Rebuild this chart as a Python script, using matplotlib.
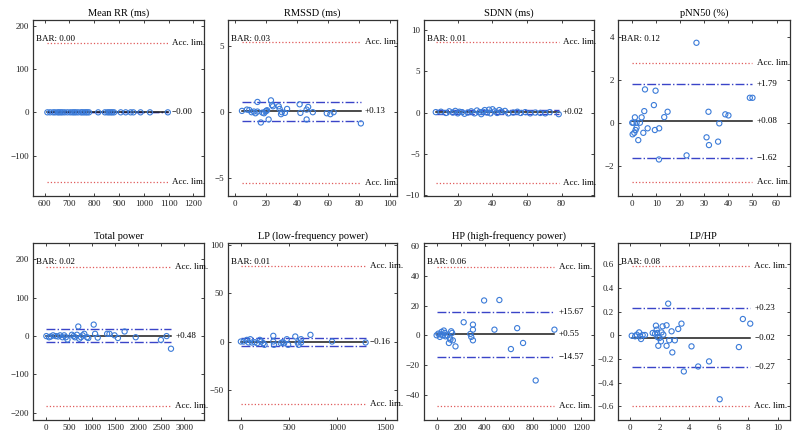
"""
Bland-Altman grid: agreement of eight HRV measures between two devices.
"""

import matplotlib
matplotlib.use("Agg")
import matplotlib.pyplot as plt
from matplotlib.ticker import FuncFormatter

plt.rcParams["font.family"] = ["Liberation Serif", "DejaVu Serif"]

TITLES = ["Mean RR (ms)", "RMSSD (ms)", "SDNN (ms)", "pNN50 (%)",
          "Total power", "LP (low-frequency power)", "HP (high-frequency power)", "LP/HP"]

# Summary statistics.
BAR = [0.00, 0.03, 0.01, 0.12, 0.02, 0.01, 0.06, 0.08]
BIAS = [-0.001, 0.13, 0.02, 0.08, 0.48, -0.16, 0.55, -0.02]
LOA_UP = [0.0, 0.81, 0.27, 1.79, 18.0, 3.5, 15.67, 0.23]
LOA_LO = [0.0, -0.63, -0.23, -1.62, -16.5, -4.2, -14.57, -0.27]
ACC_UP = [161, 5.3, 8.5, 2.77, 181, 78, 46.4, 0.585]
ACC_LO = [-160, -5.35, -8.5, -2.77, -182, -65, -47.5, -0.593]
LOA_LABELED = [False, False, False, True, False, False, True, True]

# Scatter data (mean of devices vs. difference).
MEANRR_X = [611, 622, 634, 642, 652, 658, 665, 672, 681, 692, 703, 712, 719, 726, 735, 746, 752,
            759, 766, 772, 779, 816, 843, 853, 860, 867, 873, 880, 907, 927, 947, 958, 987, 1025, 1097]
MEANRR_Y = [0.0] * len(MEANRR_X)

RMSSD_X = [4.3, 7.5, 9, 10.5, 12, 13, 14.3, 14.3, 16.5, 17.5, 18.5, 19.5, 20, 20.5, 21.5, 23, 23.7,
           24.3, 28, 28.6, 29.5, 30, 32, 33.4, 41.5, 42, 46, 46, 47, 50, 59, 61.3, 63.4, 81]
RMSSD_Y = [0.1, 0.2, 0.17, 0.0, 0.05, -0.08, 0.78, 0.05, -0.78, -0.03, -0.08, 0.05, 0.1, 0.15, -0.55,
           0.9, 0.55, 0.45, 0.45, 0.25, -0.15, 0.0, -0.05, 0.25, 0.6, -0.05, 0.2, -0.55, 0.4, 0.0,
           -0.08, -0.15, 0.0, -0.85]

SDNN_X = [7.3, 10.3, 13.2, 15.1, 17.1, 18.6, 20, 21, 22.5, 23.9, 25.8, 27.8, 29.7, 31.1, 32.7, 33.6,
          34.6, 35.6, 37, 38.1, 38.9, 40.1, 41.4, 42.8, 44, 45.3, 47.3, 49.2, 52.1, 54.5, 56.4, 59,
          61.9, 64.8, 67.7, 70.6, 73.2, 78.4]
SDNN_Y = [0.05, 0.1, -0.05, 0.15, 0.0, 0.2, -0.1, 0.1, 0.05, -0.15, 0.0, 0.15, -0.1, 0.25, 0.05,
          -0.2, 0.1, 0.3, 0.0, 0.35, -0.1, 0.4, 0.15, -0.05, 0.3, 0.1, 0.2, -0.1, 0.0, 0.1, -0.05,
          0.05, -0.1, 0.0, -0.05, -0.1, 0.05, -0.2]

PNN50_X = [0, 0.44, 1.8, 3.2, 1.1, 0.16, 0.85, 1.4, 1.8, 2.5, 3.9, 4.6, 5, 5.3, 6.4, 9, 9.4, 9.7,
           11.2, 11.1, 13.3, 14.7, 22.6, 26.7, 30.9, 31.7, 31.9, 35.7, 36.2, 38.7, 40, 48.9, 50]
PNN50_Y = [0, 0, 0, 0, 0.25, -0.54, -0.47, -0.34, -0.23, -0.81, 0.25, -0.47, 0.54, 1.55, -0.26,
           0.82, -0.34, 1.49, -0.26, -1.71, 0.26, 0.51, -1.52, 3.72, -0.68, 0.51, -1.04, -0.88,
           -0.03, 0.39, 0.34, 1.16, 1.16]

TP_X = [15, 73, 109, 160, 218, 269, 312, 363, 400, 436, 472, 567, 603, 632, 676, 705, 726, 763, 799,
        835, 893, 922, 1039, 1068, 1126, 1329, 1380, 1489, 1562, 1707, 1947, 2492, 2615, 2710]
TP_Y = [0, -3, -1, 2, 0, -1, 2, -3, 2, -3, -9, 3.5, 0, -3, 3.5, 25, -7, -3, 2, 6, -3, -5, 30, 6,
        -4, 6, 6, 2, -5, 12, -3, -10, 0, -33]

LP_X = [0, 28, 63, 81, 98, 116, 145, 170, 198, 212, 233, 247, 338, 338, 345, 416, 433, 451, 479,
        493, 567, 592, 602, 627, 627, 725, 950, 1300]
LP_Y = [0, 0, 1.7, -1, 2.4, -1, -0.7, -1.7, 1.7, 0, -1.7, -3.4, 5.9, 0, -3.4, -1.7, -0.7, -1.7,
        2.4, -3.4, 5.2, -1, -3.4, 2.4, -1, 6.9, 0, -1]

HP_X = [0, 14, 27, 41, 33, 52, 60, 69, 74, 88, 102, 110, 115, 121, 129, 135, 157, 225, 280, 288,
        302, 302, 302, 395, 481, 522, 618, 670, 719, 824, 980]
HP_Y = [0, 1.1, -1.1, 2.3, 0.5, 0, 3.2, 1.6, -0.7, 0, -5.2, -1.8, -2.9, 2.7, 1.6, -3.4, -7.5, 8.8,
        0.9, -1.1, 3.8, 7.2, -3.4, 23.5, 3.8, 23.8, -9.3, 4.8, -5.2, -30.5, 3.8]

LPHP_X = [0.11, 0.34, 0.45, 0.61, 0.67, 0.74, 0.85, 1.01, 1.53, 1.69, 1.75, 1.80, 1.84, 1.86, 1.91,
          1.98, 2.09, 2.13, 2.2, 2.25, 2.47, 2.47, 2.58, 2.65, 2.81, 2.86, 3.03, 3.26, 3.48, 3.64,
          4.16, 4.61, 5.35, 6.07, 7.37, 7.64, 8.14]
LPHP_Y = [-0.003, -0.008, 0.006, 0.025, -0.008, -0.031, 0.003, 0.003, 0.02, 0.014, 0.082, 0.048,
          0.02, -0.014, -0.088, -0.023, -0.051, 0.025, 0.076, 0.006, 0.085, -0.088, 0.268, -0.042,
          0.034, -0.144, -0.042, 0.054, 0.099, -0.305, -0.093, -0.263, -0.22, -0.54, -0.099,
          0.138, 0.099]

DATA_X = [MEANRR_X, RMSSD_X, SDNN_X, PNN50_X, TP_X, LP_X, HP_X, LPHP_X]
DATA_Y = [MEANRR_Y, RMSSD_Y, SDNN_Y, PNN50_Y, TP_Y, LP_Y, HP_Y, LPHP_Y]

XTICKS = [[600, 700, 800, 900, 1000, 1100, 1200], [0, 20, 40, 60, 80, 100], [20, 40, 60, 80],
          [0, 10, 20, 30, 40, 50, 60], [0, 500, 1000, 1500, 2000, 2500, 3000], [0, 500, 1000, 1500],
          [0, 200, 400, 600, 800, 1000, 1200], [0, 2, 4, 6, 8, 10]]
YTICKS = [[-100, 0, 100, 200], [-5, 0, 5], [-10, -5, 0, 5, 10], [-2, 0, 2, 4],
          [-200, -100, 0, 100, 200], [-50, 0, 50, 100], [-40, -20, 0, 20, 40, 60],
          [-0.6, -0.4, -0.2, 0, 0.2, 0.4, 0.6]]

# Layout (axes limits and pixel boxes of the original figure).
XLIMS = [(553, 1243), (-4.7, 104.3), (0.5, 98.5), (-5.8, 65.4),
         (-274, 3424), (-134, 1627), (-105, 1305), (-0.8, 10.8)]
YLIMS = [(-193, 213), (-6.36, 7.0), (-10.1, 11.2), (-3.41, 4.78),
         (-219, 243), (-81, 101.7), (-57.2, 62.3), (-0.715, 0.78)]
COL_PX = [(33, 204), (228, 397), (424, 593.5), (618.3, 789.5)]
ROW_PX = [(20, 196), (243, 420)]
W, H = 799, 440

SCATTER_C = "#3b7bd8"
LOA_C = "#3a44c8"
ACC_C = "#e05a5a"


def fmt(v, _pos=None):
    return ("%g" % round(v, 6)).replace("-", "\u2212")


def signed(v):
    return ("%+.2f" % v).replace("-", "\u2212")


fig = plt.figure(figsize=(W / 100, H / 100), dpi=100)

for i, title in enumerate(TITLES):
    x0, x1 = COL_PX[i % 4]
    y0, y1 = ROW_PX[i // 4]
    ax = fig.add_axes([x0 / W, 1 - y1 / H, (x1 - x0) / W, (y1 - y0) / H])

    xs, ys = DATA_X[i], DATA_Y[i]
    xmin, xmax = min(xs), max(xs)

    ax.plot([xmin, xmax], [ACC_UP[i]] * 2, ls=":", color=ACC_C, lw=0.9, zorder=1)
    ax.plot([xmin, xmax], [ACC_LO[i]] * 2, ls=":", color=ACC_C, lw=0.9, zorder=1)
    ax.plot([xmin, xmax], [LOA_UP[i]] * 2, ls="-.", color=LOA_C, lw=1.0, zorder=1)
    ax.plot([xmin, xmax], [LOA_LO[i]] * 2, ls="-.", color=LOA_C, lw=1.0, zorder=1)
    ax.plot([xmin, xmax], [BIAS[i]] * 2, ls="-", color="#1a1a1a", lw=1.1, zorder=2)
    ax.scatter(xs, ys, s=14, facecolors="none", edgecolors=SCATTER_C, linewidths=0.8, zorder=3)

    kw = dict(textcoords="offset points", va="center", ha="left", fontsize=6.5,
              annotation_clip=False)
    ax.annotate("Acc. lim.", xy=(xmax, ACC_UP[i]), xytext=(3, 0), **kw)
    ax.annotate("Acc. lim.", xy=(xmax, ACC_LO[i]), xytext=(3, 0), **kw)
    ax.annotate(signed(BIAS[i]), xy=(xmax, BIAS[i]), xytext=(3, 0), **kw)
    if LOA_LABELED[i]:
        ax.annotate(signed(LOA_UP[i]), xy=(xmax, LOA_UP[i]), xytext=(3, 0), **kw)
        ax.annotate(signed(LOA_LO[i]), xy=(xmax, LOA_LO[i]), xytext=(3, 0), **kw)
    ax.text(0.015, 0.89, "BAR: %.2f" % BAR[i], transform=ax.transAxes,
            fontsize=6.5, va="center", ha="left")

    ax.set_xlim(*XLIMS[i])
    ax.set_ylim(*YLIMS[i])
    ax.set_xticks(XTICKS[i])
    ax.set_yticks(YTICKS[i])
    ax.xaxis.set_major_formatter(FuncFormatter(fmt))
    ax.yaxis.set_major_formatter(FuncFormatter(fmt))
    ax.tick_params(direction="in", top=True, right=True, length=2.5, width=0.6,
                   labelsize=6.5, pad=3, colors="#222222")
    for sp in ax.spines.values():
        sp.set_color("#333333")
        sp.set_linewidth(0.9)
    ax.set_title(title, fontsize=7.5, pad=3)

fig.savefig("out.png", dpi=100)
